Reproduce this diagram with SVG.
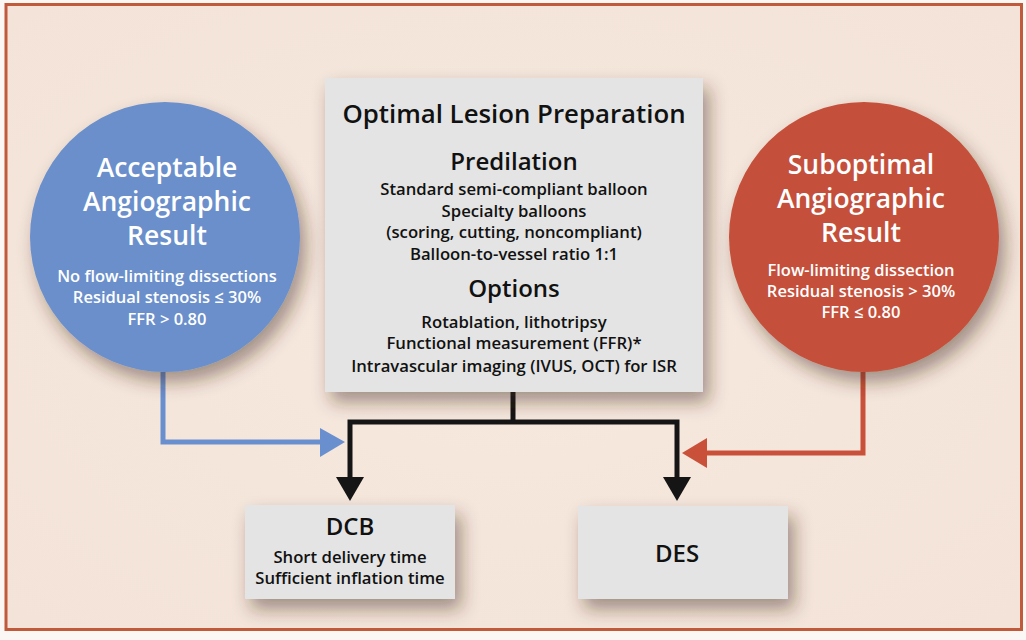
<svg xmlns="http://www.w3.org/2000/svg" width="1026" height="640" viewBox="0 0 1026 640">
<defs>
<style>
text{font-family:"Open Sans","Noto Sans","DejaVu Sans",sans-serif;text-anchor:middle;font-weight:600}
.wt{fill:#ffffff}
.bk{fill:#111111}
.h1{font-size:26.5px}
.h0{font-size:25.8px}
.h2{font-size:24px}
.sm{font-size:16.7px}
.cs{font-size:16.5px}
.box{fill:#e4e4e4}
</style>
<filter id="sh" x="-20%" y="-20%" width="150%" height="150%">
<feDropShadow dx="6" dy="10" stdDeviation="9" flood-color="#3a2418" flood-opacity="0.45"/>
</filter>
<radialGradient id="bg" cx="50%" cy="50%" r="70%">
<stop offset="0" stop-color="#f7e9df"/>
<stop offset="1" stop-color="#f3e3d8"/>
</radialGradient>
</defs>
<rect width="1026" height="640" fill="#fbf7f4"/>
<rect x="6" y="4.5" width="1015.5" height="625" fill="url(#bg)" stroke="#c05a3a" stroke-width="3"/>

<g id="connectors" fill="none" stroke-width="5">
<polyline points="163,372 163,442 322,442" stroke="#6a8fcf"/>
<polygon points="345,442 320,428 320,457" fill="#6a8fcf" stroke="none"/>
<polyline points="863,372 863,453 705,453" stroke="#c9513a"/>
<polygon points="682,453 707,438 707,468" fill="#c9513a" stroke="none"/>
<polyline points="513,392 513,422" stroke="#151515"/>
<polyline points="350,480 350,422 677,422 677,480" stroke="#151515"/>
<polygon points="336,477 364,477 350,501" fill="#151515" stroke="none"/>
<polygon points="663,477 691,477 677,501" fill="#151515" stroke="none"/>
</g>

<g id="acceptable">
<circle cx="165" cy="237" r="135" fill="#6b8fcb" filter="url(#sh)"/>
<text class="wt h1" x="167" y="177">Acceptable</text>
<text class="wt h1" x="167" y="211">Angiographic</text>
<text class="wt h1" x="167" y="245">Result</text>
<text class="wt cs" x="167" y="282">No flow-limiting dissections</text>
<text class="wt cs" x="167" y="303">Residual stenosis ≤ 30%</text>
<text class="wt cs" x="167" y="325">FFR &gt; 0.80</text>
</g>

<g id="suboptimal">
<circle cx="864" cy="237" r="135" fill="#c4503b" filter="url(#sh)"/>
<text class="wt h1" x="861" y="174">Suboptimal</text>
<text class="wt h1" x="861" y="208">Angiographic</text>
<text class="wt h1" x="861" y="242">Result</text>
<text class="wt cs" x="861" y="276">Flow-limiting dissection</text>
<text class="wt cs" x="861" y="297">Residual stenosis &gt; 30%</text>
<text class="wt cs" x="861" y="318">FFR ≤ 0.80</text>
</g>

<g id="lesion-prep">
<rect class="box" x="325" y="78" width="378" height="314" filter="url(#sh)"/>
<text class="bk h0" x="514" y="123">Optimal Lesion Preparation</text>
<text class="bk h2" x="514" y="170">Predilation</text>
<text class="bk sm" x="514" y="195">Standard semi-compliant balloon</text>
<text class="bk sm" x="514" y="217">Specialty balloons</text>
<text class="bk sm" x="514" y="238">(scoring, cutting, noncompliant)</text>
<text class="bk sm" x="514" y="260">Balloon-to-vessel ratio 1:1</text>
<text class="bk h2" x="514" y="297">Options</text>
<text class="bk sm" x="514" y="328">Rotablation, lithotripsy</text>
<text class="bk sm" x="514" y="349">Functional measurement (FFR)*</text>
<text class="bk sm" x="514" y="372">Intravascular imaging (IVUS, OCT) for ISR</text>
</g>

<g id="dcb">
<rect class="box" x="245" y="505" width="210" height="94" filter="url(#sh)"/>
<text class="bk h2" x="350" y="535">DCB</text>
<text class="bk sm" x="350" y="563">Short delivery time</text>
<text class="bk sm" x="350" y="584">Sufficient inflation time</text>
</g>

<g id="des">
<rect class="box" x="578" y="506" width="210" height="93" filter="url(#sh)"/>
<text class="bk h2" x="677" y="562">DES</text>
</g>
</svg>
